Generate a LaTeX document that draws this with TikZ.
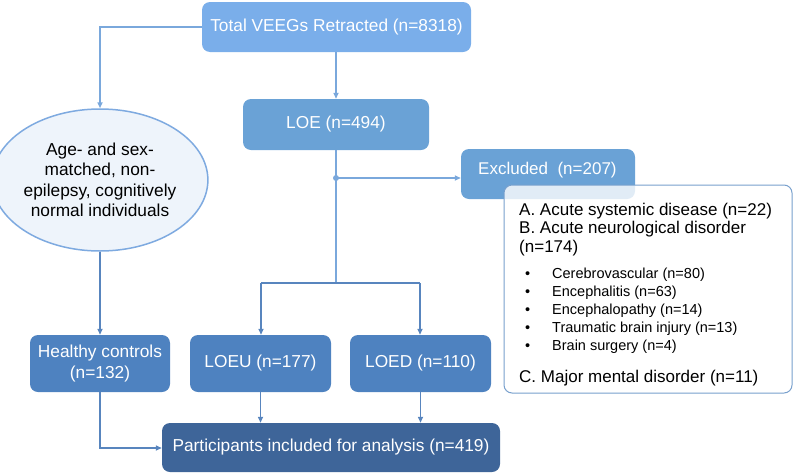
\documentclass[tikz,border=0pt]{standalone}
\usepackage{fontspec}
\setmainfont{Liberation Sans}
\usetikzlibrary{arrows.meta,shapes.geometric}
\definecolor{cTop}{RGB}{122,174,234}
\definecolor{cLoe}{RGB}{106,162,214}
\definecolor{cMid}{RGB}{78,130,192}
\definecolor{cPart}{RGB}{62,101,153}
\definecolor{cLineA}{RGB}{122,168,220}
\definecolor{cLineB}{RGB}{88,133,190}
\definecolor{cEllFill}{RGB}{238,244,251}
\definecolor{cEllLine}{RGB}{126,170,224}
\definecolor{cDetLine}{RGB}{120,160,205}
\tikzset{
  boxbase/.style={rectangle, rounded corners=8pt, text=white, align=center, inner sep=0pt,
    font=\fontsize{17.3}{21}\selectfont},
  topbox/.style={boxbase, fill=cTop},
  loebox/.style={boxbase, fill=cLoe},
  midbox/.style={boxbase, fill=cMid},
  partbox/.style={boxbase, fill=cPart},
  lineA/.style={draw=cLineA, line width=1.6pt, -{Triangle[length=6pt,width=5pt]}},
  lineB/.style={draw=cLineB, line width=1.8pt, -{Triangle[length=6pt,width=5pt]}},
  dettext/.style={anchor=base west, inner sep=0pt, font=\fontsize{17}{20}\selectfont, text=black},
  bultext/.style={anchor=base west, inner sep=0pt, font=\fontsize{14.5}{18}\selectfont, text=black},
}
\begin{document}
\begin{tikzpicture}[x=1pt,y=-1pt]
\useasboundingbox (0,0) rectangle (794,474);
% nodes
\node[topbox, minimum width=269pt, minimum height=50pt] (top) at (336.5,27) {Total VEEGs Retracted (n=8318)};
\node[loebox, minimum width=186pt, minimum height=51pt] (loe) at (336,124.5) {LOE (n=494)};
\node[ellipse, draw=cEllLine, line width=1.5pt, fill=cEllFill, minimum width=197pt, minimum height=142pt,
  inner sep=0pt, align=center, font=\fontsize{17.3}{20.5}\selectfont] (ell) at (100,180)
  {Age- and sex-\\matched, non-\\epilepsy, cognitively\\normal individuals};
\node[loebox, minimum width=174pt, minimum height=50pt] (excl) at (548,174) {};
\node[anchor=base west, inner sep=0pt, text=white, font=\fontsize{17}{20}\selectfont] (exclt) at (478,174) {Excluded\ \ (n=207)};
\node[rectangle, rounded corners=8pt, draw=cDetLine, line width=1pt, fill=white, fill opacity=0.8,
  minimum width=288pt, minimum height=208pt] (det) at (648,289) {};
\node[dettext] (ta) at (519,215) {A. Acute systemic disease (n=22)};
\node[dettext] (tb) at (519,233) {B. Acute neurological disorder};
\node[dettext] (tb2) at (519,252) {(n=174)};
\foreach \y/\t [count=\i] in {278/Cerebrovascular (n=80), 296/Encephalitis (n=63), 314/Encephalopathy (n=14), 332/Traumatic brain injury (n=13), 350/Brain surgery (n=4)}{
  \node[bultext] (bd\i) at (525,\y) {\textbullet};
  \node[bultext] (bt\i) at (552,\y) {\t};
}
\node[dettext] (tc) at (519,382) {C. Major mental disorder (n=11)};
\node[midbox, minimum width=140pt, minimum height=57pt] (hc) at (100,363.5) {Healthy controls\\(n=132)};
\node[midbox, minimum width=141pt, minimum height=57pt] (loeu) at (260.5,363.5) {LOEU (n=177)};
\node[midbox, minimum width=141pt, minimum height=57pt] (loed) at (420.5,363.5) {LOED (n=110)};
\node[partbox, minimum width=338pt, minimum height=49pt] (part) at (331,447.5) {Participants included for analysis (n=419)};
% connectors
\coordinate (jl) at (100,27);
\coordinate (jd) at (336,178);
\coordinate (jh) at (336,283);
\coordinate (jhl) at (261,283);
\coordinate (jhr) at (420,283);
\coordinate (hcb) at (100,448);
\draw[lineA] (top.west) -- (jl) -- (ell.north);
\draw[lineA] (top.south -| loe.north) -- (loe.north);
\draw[draw=cLineA, line width=1.6pt] (loe.south) -- (jh);
\draw[lineA] (jd) -- (jd -| excl.west);
\fill[cLineA] (jd) circle (3pt);
\draw[draw=cLineB, line width=1.8pt] (jhl) -- (jhr);
\draw[lineB] (jhl) -- (jhl |- loeu.north);
\draw[lineB] (jhr) -- (jhr |- loed.north);
\draw[lineB] (ell.south) -- (hc.north);
\draw[lineB] (loeu.south) -- (loeu.south |- part.north);
\draw[lineB] (loed.south) -- (loed.south |- part.north);
\draw[lineB] (hc.south) -- (hcb) -- (part.west |- hcb);
\end{tikzpicture}
\end{document}
